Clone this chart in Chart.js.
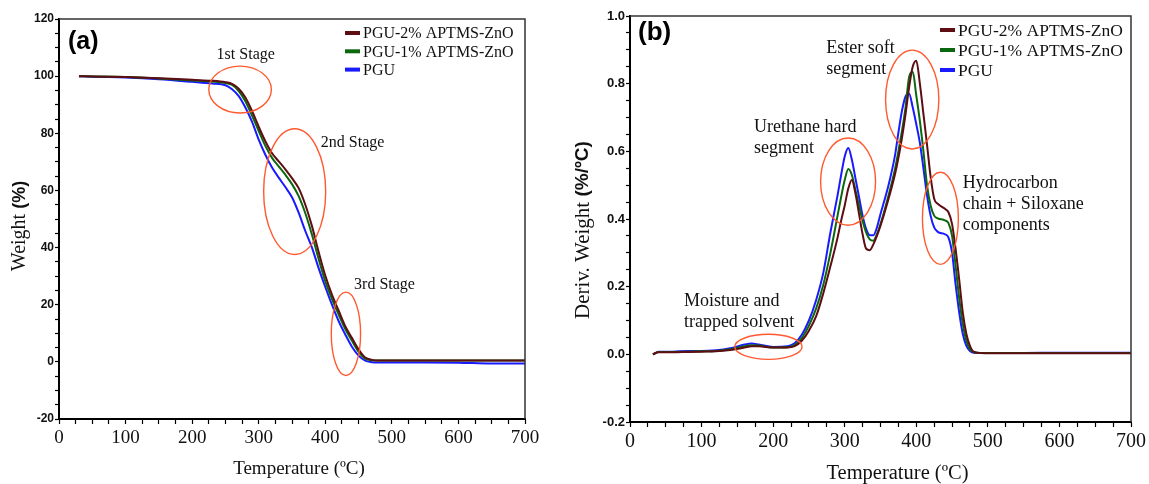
<!DOCTYPE html>
<html>
<head>
<meta charset="utf-8">
<script src="https://cdn.jsdelivr.net/npm/chart.js@4.4.1/dist/chart.umd.min.js"></script>
<style>
  html, body { margin: 0; padding: 0; background: #fff; }
  #wrap { position: relative; width: 1149px; height: 484px; overflow: hidden; }
  canvas { position: absolute; top: 0; }
  #tga { left: 0; }
  #dtg { left: 565px; }
</style>
</head>
<body>
<div id="wrap">
  <canvas id="tga" width="565" height="484"></canvas>
  <canvas id="dtg" width="584" height="484"></canvas>
</div>
<script>
const SERIF = '"Liberation Serif", "Times New Roman", serif';
const SANS = '"Liberation Sans", Arial, sans-serif';

const seriesNames = ['PGU-2% APTMS-ZnO', 'PGU-1% APTMS-ZnO', 'PGU'];
const seriesColors = ['#5e0d12', '#0b680f', '#1a1aff'];

// (a) TGA - weight (%) vs temperature
const tgaTemp = [30, 50, 100, 150, 200, 230, 250, 260, 270, 280, 290, 300, 310, 320, 330, 340, 350, 360,
  370, 380, 390, 400, 410, 420, 430, 440, 450, 460, 470, 480, 500, 550, 600, 650, 700];
const tgaPGU2 = [100, 99.9, 99.7, 99.3, 98.7, 98.4, 97.9, 97.3, 95.6, 92.5, 87.8, 82.3, 77.2, 73, 70.2, 67.4, 64.3, 60.8,
  55, 47.5, 38.5, 30.2, 23.5, 18, 12.5, 8.4, 4.4, 1.5, 0.7, 0.5, 0.5, 0.5, 0.5, 0.5, 0.5];
const tgaPGU1 = [100, 99.9, 99.7, 99.2, 98.5, 98.1, 97.6, 96.9, 94.8, 91.2, 86.2, 80.8, 75.6, 71.4, 68.4, 65.5, 62.2, 58,
  52, 44.5, 36, 28.2, 22, 16.6, 11.5, 7.4, 3.6, 1.1, 0.6, 0.5, 0.5, 0.5, 0.5, 0.5, 0.5];
const tgaPGU = [100, 99.8, 99.5, 98.9, 98, 97.4, 96.8, 95.4, 93, 89, 84, 77.8, 72.5, 68, 64.5, 61.2, 57.6, 52.2,
  45.8, 40, 32.8, 26.2, 20, 14.3, 9.6, 5.3, 2.2, 0.4, -0.1, -0.2, -0.2, -0.2, -0.3, -0.6, -0.6];

// (b) DTG - deriv. weight (%/C) vs temperature
const dtgTemp = [32, 40, 60, 80, 100, 120, 140, 160, 170, 180, 200, 220, 230, 240, 250, 260, 270, 280, 290, 295,
  300, 305, 310, 315, 320, 325, 330, 335, 340, 345, 350, 360, 370, 375, 380, 385, 390, 395, 400, 405,
  410, 415, 420, 425, 430, 440, 445, 450, 455, 460, 465, 470, 475, 480, 490, 500, 550, 600, 650, 700];
const dtgPGU2 = [0, 0.006, 0.006, 0.007, 0.008, 0.009, 0.013, 0.020, 0.024, 0.024, 0.020, 0.020, 0.024, 0.040, 0.070, 0.112, 0.180, 0.260, 0.345, 0.395,
  0.440, 0.490, 0.515, 0.475, 0.415, 0.355, 0.312, 0.308, 0.325, 0.350, 0.380, 0.450, 0.530, 0.580, 0.640, 0.710, 0.790, 0.850, 0.868, 0.800,
  0.710, 0.620, 0.525, 0.460, 0.445, 0.430, 0.420, 0.385, 0.310, 0.220, 0.123, 0.060, 0.025, 0.008, 0.004, 0.003, 0.003, 0.003, 0.003, 0.003];
const dtgPGU1 = [0, 0.007, 0.007, 0.008, 0.009, 0.010, 0.015, 0.024, 0.027, 0.026, 0.020, 0.021, 0.027, 0.048, 0.085, 0.135, 0.205, 0.300, 0.410, 0.465,
  0.515, 0.548, 0.530, 0.485, 0.440, 0.395, 0.360, 0.340, 0.336, 0.355, 0.385, 0.460, 0.545, 0.600, 0.660, 0.730, 0.820, 0.835, 0.765, 0.690,
  0.600, 0.500, 0.440, 0.410, 0.402, 0.396, 0.388, 0.350, 0.260, 0.165, 0.090, 0.040, 0.015, 0.007, 0.004, 0.004, 0.004, 0.004, 0.004, 0.004];
const dtgPGU = [0, 0.008, 0.008, 0.010, 0.010, 0.012, 0.018, 0.029, 0.032, 0.029, 0.022, 0.024, 0.033, 0.058, 0.100, 0.160, 0.240, 0.360, 0.470, 0.530,
  0.585, 0.610, 0.575, 0.520, 0.465, 0.410, 0.370, 0.352, 0.352, 0.375, 0.415, 0.490, 0.585, 0.655, 0.720, 0.762, 0.770, 0.730, 0.680, 0.625,
  0.550, 0.470, 0.410, 0.375, 0.362, 0.355, 0.345, 0.300, 0.205, 0.123, 0.060, 0.025, 0.010, 0.005, 0.004, 0.004, 0.004, 0.005, 0.005, 0.005];

// annotations, in data units (temperature, value)
const tgaNotes = [
  { text: ['1st Stage'], x: 280.5, y: 107.6, align: 'center' },
  { text: ['2nd Stage'], x: 441, y: 76.7, align: 'center' },
  { text: ['3rd Stage'], x: 489, y: 27, align: 'center' }
];
const tgaRings = [
  { x: 272, y: 95.3, rx: 47, ry: 8.2 },
  { x: 354, y: 59.6, rx: 46.6, ry: 22 },
  { x: 431, y: 9.8, rx: 22, ry: 14.6 }
];
const dtgNotes = [
  { text: ['Ester soft', 'segment'], x: 274.3, y: 0.904, align: 'left' },
  { text: ['Urethane hard', 'segment'], x: 173.4, y: 0.670, align: 'left' },
  { text: ['Hydrocarbon', 'chain + Siloxane', 'components'], x: 464.9, y: 0.505, align: 'left' },
  { text: ['Moisture and', 'trapped solvent'], x: 75.3, y: 0.1575, align: 'left' }
];
const dtgRings = [
  { x: 394.3, y: 0.753, rx: 37.2, ry: 0.146 },
  { x: 304.7, y: 0.5105, rx: 38.4, ry: 0.129 },
  { x: 433.7, y: 0.402, rx: 25.1, ry: 0.136 },
  { x: 193.4, y: 0.0222, rx: 47, ry: 0.037 }
];


function toPoints(xs, ys) {
  return xs.map((x, i) => ({ x: x, y: ys[i] }));
}

const decor = {
  id: 'decor',
  afterDraw(chart, args, o) {
    const { ctx, chartArea: a } = chart;
    const x = chart.scales.x;
    const y = chart.scales.y;
    ctx.save();

    // top and right frame
    ctx.strokeStyle = '#333';
    ctx.lineWidth = 1.5;
    ctx.beginPath();
    ctx.moveTo(a.left, a.top);
    ctx.lineTo(a.right, a.top);
    ctx.lineTo(a.right, a.bottom);
    ctx.stroke();

    // red rings
    ctx.strokeStyle = '#ff5a30';
    ctx.lineWidth = 1.4;
    o.rings.forEach(r => {
      const cx = x.getPixelForValue(r.x);
      const cy = y.getPixelForValue(r.y);
      const rx = Math.abs(x.getPixelForValue(r.x + r.rx) - cx);
      const ry = Math.abs(y.getPixelForValue(r.y + r.ry) - cy);
      ctx.beginPath();
      ctx.ellipse(cx, cy, rx, ry, 0, 0, Math.PI * 2);
      ctx.stroke();
    });

    // notes
    ctx.fillStyle = '#111';
    ctx.font = o.noteFont;
    ctx.textBaseline = 'middle';
    o.notes.forEach(n => {
      ctx.textAlign = n.align;
      const px = x.getPixelForValue(n.x);
      const py = y.getPixelForValue(n.y);
      n.text.forEach((t, i) => ctx.fillText(t, px, py + i * o.noteGap));
    });

    // panel label
    ctx.fillStyle = '#000';
    ctx.textAlign = 'left';
    ctx.font = o.panelFont;
    ctx.fillText(o.panel, a.left + o.panelDx, o.panelY);

    // legend
    ctx.font = o.legendFont;
    seriesNames.forEach((name, i) => {
      const ly = o.legendY + i * o.legendGap;
      ctx.strokeStyle = seriesColors[i];
      ctx.lineWidth = 4;
      ctx.beginPath();
      ctx.moveTo(o.legendX, ly);
      ctx.lineTo(o.legendX + 15, ly);
      ctx.stroke();
      ctx.fillStyle = '#111';
      ctx.fillText(name, o.legendX + 18, ly + 1);
    });

    // x title
    ctx.textAlign = 'center';
    ctx.font = o.xTitleFont;
    ctx.fillText('Temperature (\u00BAC)', (a.left + a.right) / 2 + o.xTitleDx, o.xTitleY);

    // y title: serif words + bold sans unit
    ctx.translate(o.yTitleX, o.yTitleY);
    ctx.rotate(-Math.PI / 2);
    ctx.font = o.yTitleFont;
    const w1 = ctx.measureText(o.yTitle).width;
    ctx.font = o.yUnitFont;
    const w2 = ctx.measureText(o.yUnit).width;
    const start = -(w1 + w2) / 2;
    ctx.textAlign = 'left';
    ctx.font = o.yTitleFont;
    ctx.fillText(o.yTitle, start, 0);
    ctx.font = o.yUnitFont;
    ctx.fillText(o.yUnit, start + w1, 0);

    ctx.restore();
  }
};

function makeChart(id, xs, ys, s) {
  const datasets = ys.map((vals, i) => ({
    label: seriesNames[i],
    data: toPoints(xs, vals),
    borderColor: seriesColors[i],
    borderWidth: 2,
    pointRadius: 0,
    cubicInterpolationMode: 'monotone',
    fill: false
  }));

  return new Chart(document.getElementById(id), {
    type: 'line',
    data: { datasets: datasets },
    plugins: [decor],
    options: {
      responsive: false,
      animation: false,
      devicePixelRatio: 1,
      layout: { padding: s.padding },
      plugins: {
        legend: { display: false },
        tooltip: { enabled: false },
        decor: s.decor
      },
      scales: {
        x: {
          type: 'linear',
          min: 0,
          max: 700,
          grid: { drawOnChartArea: false, color: '#000', tickLength: 5, tickWidth: 1.2 },
          border: { color: '#000', width: 2 },
          ticks: {
            stepSize: 25,
            autoSkip: false,
            maxRotation: 0,
            padding: 3,
            color: '#111',
            font: { family: SERIF, size: s.xFont },
            callback: v => (v % 100 === 0 ? String(v) : '')
          },
          afterFit: sc => { sc.height = s.xHeight; }
        },
        y: {
          min: s.yMin,
          max: s.yMax,
          grid: { drawOnChartArea: false, color: '#000', tickLength: 4, tickWidth: 1.2 },
          border: { color: '#000', width: 2 },
          ticks: {
            stepSize: s.yStep,
            autoSkip: false,
            padding: 1,
            color: '#111',
            font: { family: SANS, size: s.yFont, weight: 'bold' },
            callback: s.yLabel
          },
          afterFit: sc => { sc.width = s.yWidth; }
        }
      }
    }
  });
}

makeChart('tga', tgaTemp, [tgaPGU2, tgaPGU1, tgaPGU], {
  padding: { top: 19, right: 40, left: 0, bottom: 0 },
  xHeight: 65,
  yWidth: 59,
  xFont: 19,
  yFont: 12,
  yMin: -20,
  yMax: 120,
  yStep: 5,
  yLabel: v => (v % 20 === 0 ? String(v) : ''),
  decor: {
    rings: tgaRings,
    notes: tgaNotes,
    noteFont: '16px ' + SERIF,
    noteGap: 20,
    panel: '(a)',
    panelFont: 'bold 25px ' + SANS,
    panelDx: 9,
    panelY: 42,
    legendFont: '16px ' + SERIF,
    legendX: 345,
    legendY: 33,
    legendGap: 18.3,
    xTitleFont: '19px ' + SERIF,
    xTitleDx: 7,
    xTitleY: 469,
    yTitle: 'Weight ',
    yUnit: '(%)',
    yTitleFont: '20px ' + SERIF,
    yUnitFont: 'bold 18px ' + SANS,
    yTitleX: 20,
    yTitleY: 226
  }
});

makeChart('dtg', dtgTemp, [dtgPGU2, dtgPGU1, dtgPGU], {
  padding: { top: 16, right: 17, left: 0, bottom: 0 },
  xHeight: 62,
  yWidth: 65,
  xFont: 20,
  yFont: 13,
  yMin: -0.2,
  yMax: 1.0,
  yStep: 0.05,
  yLabel: v => {
    const r = Math.round(v * 5) / 5;
    return Math.abs(v - r) < 1e-6 ? r.toFixed(1) : '';
  },
  decor: {
    rings: dtgRings,
    notes: dtgNotes,
    noteFont: '18px ' + SERIF,
    noteGap: 21,
    panel: '(b)',
    panelFont: 'bold 26px ' + SANS,
    panelDx: 8,
    panelY: 33,
    legendFont: '17.5px ' + SERIF,
    legendX: 375,
    legendY: 30,
    legendGap: 20,
    xTitleFont: '20.5px ' + SERIF,
    xTitleDx: 17,
    xTitleY: 474,
    yTitle: 'Deriv. Weight ',
    yUnit: '(%/\u00BAC)',
    yTitleFont: '21px ' + SERIF,
    yUnitFont: 'bold 19px ' + SANS,
    yTitleX: 18,
    yTitleY: 230
  }
});
</script>
</body>
</html>
